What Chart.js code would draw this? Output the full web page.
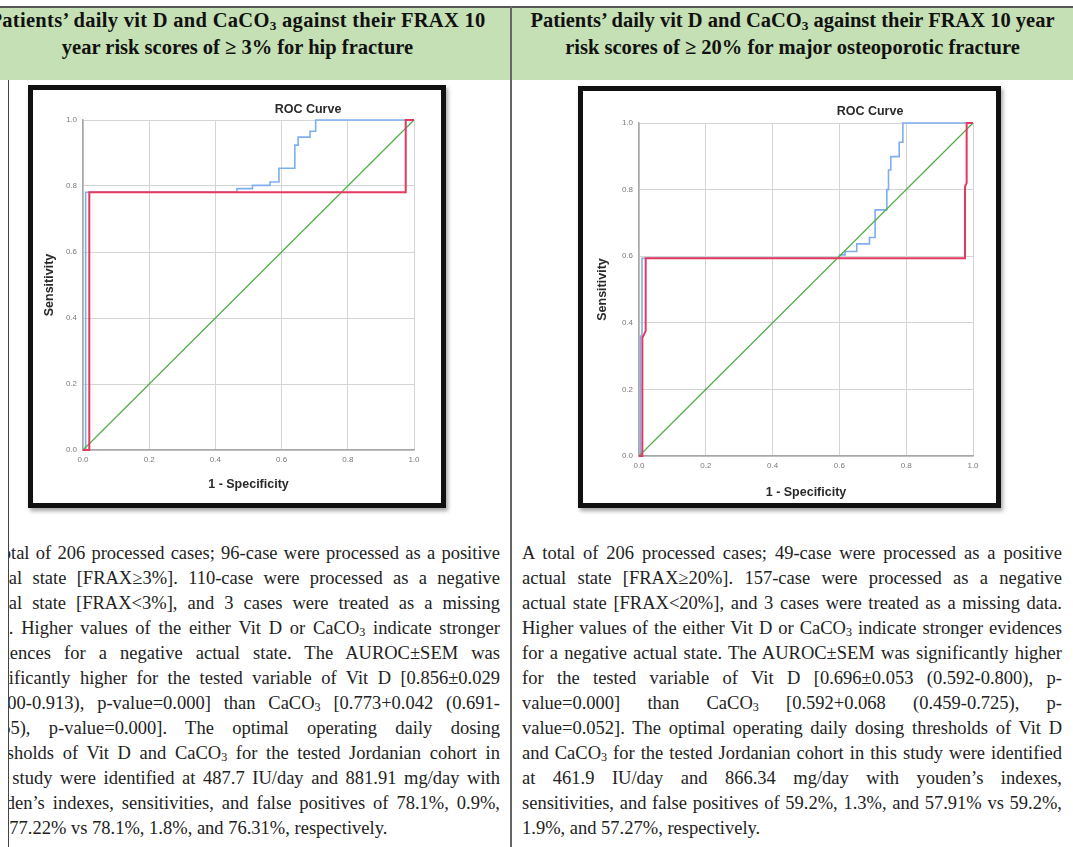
<!DOCTYPE html>
<html>
<head>
<meta charset="utf-8">
<script src="https://cdn.jsdelivr.net/npm/chart.js@4.4.1/dist/chart.umd.min.js"></script>
<style>
  html, body { margin:0; padding:0; background:#fff; }
  body { width:1073px; height:847px; position:relative; overflow:hidden; }
  .abs { position:absolute; }
  .hdr { font-family:"Liberation Serif","Times New Roman",serif; font-weight:bold; font-size:20.5px; line-height:27px; color:#111; text-align:center; white-space:nowrap; }
  .frame { position:absolute; border:5px solid #111; background:#fff; box-shadow:2px 3px 4px rgba(0,0,0,0.35); }
  .frame canvas { position:absolute; left:0; top:0; }
  .ctitle { position:absolute; font-family:"Liberation Sans",Arial,sans-serif; font-weight:bold; font-size:12.5px; color:#2a2a2a; white-space:nowrap; transform:translate(-50%,-50%); }
  .body { font-family:"Liberation Serif","Times New Roman",serif; font-size:18.5px; line-height:25px; color:#222; }
  .ln { white-space:nowrap; height:25px; }
  sub { font-size:0.65em; vertical-align:-0.2em; line-height:0; }
</style>
</head>
<body>

<!-- table structure -->
<div class="abs" style="left:0;top:8px;width:511px;height:72px;background:#c5e0b4;"></div>
<div class="abs" style="left:512px;top:8px;width:561px;height:72px;background:#c5e0b4;"></div>
<div class="abs" style="left:0;top:6px;width:1073px;height:2px;background:#555;"></div>
<div class="abs" style="left:510px;top:6px;width:2px;height:841px;background:#666;"></div>
<div class="abs" style="left:8px;top:80px;width:1px;height:767px;background:#444;"></div>

<!-- headers -->
<div class="abs hdr" style="left:-36px;top:7px;width:547px;"><span style="letter-spacing:0.3px">Patients’ daily vit D and CaCO<sub>3</sub> against their FRAX 10</span><br>year risk scores of ≥ 3% for hip fracture</div>
<div class="abs hdr" style="left:512px;top:7px;width:561px;">Patients’ daily vit D and CaCO<sub>3</sub> against their FRAX 10 year<br>risk scores of ≥ 20% for major osteoporotic fracture</div>

<!-- chart frames -->
<div class="frame" style="left:28px;top:85px;width:408px;height:413px;">
  <canvas id="c1" width="408" height="413"></canvas>
</div>
<div class="ctitle" style="left:308px;top:109px;">ROC Curve</div>

<div class="frame" style="left:578px;top:86px;width:413px;height:412px;">
  <canvas id="c2" width="413" height="412"></canvas>
</div>
<div class="ctitle" style="left:870px;top:111px;">ROC Curve</div>

<!-- body texts -->
<div class="abs" style="left:9px;top:535px;width:501px;height:312px;overflow:hidden;">
  <div class="abs body" id="t1" style="left:-31px;top:6px;width:522px;">
    <div class="ln"><span>A total of 206 processed cases; 96-case were processed as a positive</span></div>
    <div class="ln"><span>actual state [FRAX≥3%]. 110-case were processed as a negative</span></div>
    <div class="ln"><span>actual state [FRAX&lt;3%], and 3 cases were treated as a missing</span></div>
    <div class="ln"><span>data. Higher values of the either Vit D or CaCO<sub>3</sub> indicate stronger</span></div>
    <div class="ln"><span>evidences for a negative actual state. The AUROC±SEM was</span></div>
    <div class="ln"><span>significantly higher for the tested variable of Vit D [0.856±0.029</span></div>
    <div class="ln"><span>(0.800-0.913), p-value=0.000] than CaCO<sub>3</sub> [0.773+0.042 (0.691-</span></div>
    <div class="ln"><span>0.855), p-value=0.000]. The optimal operating daily dosing</span></div>
    <div class="ln"><span>thresholds of Vit D and CaCO<sub>3</sub> for the tested Jordanian cohort in</span></div>
    <div class="ln"><span>this study were identified at 487.7 IU/day and 881.91 mg/day with</span></div>
    <div class="ln"><span>youden’s indexes, sensitivities, and false positives of 78.1%, 0.9%,</span></div>
    <div class="ln last"><span>and 77.22% vs 78.1%, 1.8%, and 76.31%, respectively.</span></div>
  </div>
</div>
<div class="abs body" id="t2" style="left:522px;top:541px;width:540px;">
  <div class="ln"><span>A total of 206 processed cases; 49-case were processed as a positive</span></div>
  <div class="ln"><span>actual state [FRAX≥20%]. 157-case were processed as a negative</span></div>
  <div class="ln"><span>actual state [FRAX&lt;20%], and 3 cases were treated as a missing data.</span></div>
  <div class="ln"><span>Higher values of the either Vit D or CaCO<sub>3</sub> indicate stronger evidences</span></div>
  <div class="ln"><span>for a negative actual state. The AUROC±SEM was significantly higher</span></div>
  <div class="ln"><span>for the tested variable of Vit D [0.696±0.053 (0.592-0.800), p-</span></div>
  <div class="ln"><span>value=0.000] than CaCO<sub>3</sub> [0.592+0.068 (0.459-0.725), p-</span></div>
  <div class="ln"><span>value=0.052]. The optimal operating daily dosing thresholds of Vit D</span></div>
  <div class="ln"><span>and CaCO<sub>3</sub> for the tested Jordanian cohort in this study were identified</span></div>
  <div class="ln"><span>at 461.9 IU/day and 866.34 mg/day with youden’s indexes,</span></div>
  <div class="ln"><span>sensitivities, and false positives of 59.2%, 1.3%, and 57.91% vs 59.2%,</span></div>
  <div class="ln last"><span>1.9%, and 57.27%, respectively.</span></div>
</div>

<script>
// ---------- DATA ----------
const axisTicks = [0.0, 0.2, 0.4, 0.6, 0.8, 1.0];

// Hip fracture (FRAX >= 3%) — Vit D (blue)
const hipVitDX = [0, 0.008, 0.008, 0.465, 0.465, 0.512, 0.512, 0.565, 0.565, 0.592, 0.592, 0.640, 0.640, 0.650, 0.650, 0.686, 0.686, 0.703, 0.703, 1.0];
const hipVitDY = [0, 0, 0.781, 0.781, 0.792, 0.792, 0.802, 0.802, 0.812, 0.812, 0.854, 0.854, 0.924, 0.924, 0.948, 0.948, 0.966, 0.966, 1.0, 1.0];
// Hip fracture — CaCO3 (red)
const hipCaCO3X = [0, 0.019, 0.019, 0.975, 0.975, 1.0];
const hipCaCO3Y = [0, 0, 0.781, 0.781, 1.0, 1.0];

// Major osteoporotic fracture (FRAX >= 20%) — Vit D (blue)
const mofVitDX = [0, 0.004, 0.004, 0.009, 0.009, 0.600, 0.600, 0.617, 0.617, 0.652, 0.652, 0.690, 0.690, 0.707, 0.707, 0.742, 0.742, 0.747, 0.747, 0.754, 0.754, 0.779, 0.779, 0.790, 0.790, 1.0];
const mofVitDY = [0, 0, 0.360, 0.360, 0.594, 0.594, 0.604, 0.604, 0.614, 0.614, 0.637, 0.637, 0.656, 0.656, 0.739, 0.739, 0.800, 0.800, 0.859, 0.859, 0.899, 0.899, 0.942, 0.942, 1.0, 1.0];
// Major osteoporotic fracture — CaCO3 (red)
const mofCaCO3X = [0, 0.010, 0.010, 0.020, 0.020, 0.976, 0.976, 0.981, 0.981, 1.0];
const mofCaCO3Y = [0, 0, 0.355, 0.375, 0.594, 0.594, 0.809, 0.820, 1.0, 1.0];

// Reference line (green)
const referenceX = [0, 1];
const referenceY = [0, 1];

// ---------- helpers ----------
function pts(xs, ys) { return xs.map((x, i) => ({ x: x, y: ys[i] })); }

function makeChart(id, d, geo) {
  const lineDs = (label, data, color, width) => ({
    label, data, borderColor: color, backgroundColor: color, borderWidth: width, showLine: true,
    pointRadius: 0, pointHoverRadius: 0, fill: false, tension: 0, clip: 4
  });
  const tickFont = { family: 'Liberation Sans, Arial', size: 8 };
  const titleFont = { family: 'Liberation Sans, Arial', size: 12.5, weight: 'bold' };
  return new Chart(document.getElementById(id), {
    type: 'scatter',
    data: {
      datasets: [
        lineDs('CaCO3', pts(d.cx, d.cy), '#e5385f', 2),
        lineDs('Reference Line', pts(referenceX, referenceY), '#4fae45', 1.2),
        lineDs('Vit D', pts(d.vx, d.vy), '#7eaef0', 1.6)
      ]
    },
    options: {
      responsive: false, animation: false, devicePixelRatio: 1, events: [],
      layout: { padding: { left: 0, top: geo.padTop, right: geo.padRight, bottom: 0 } },
      plugins: { legend: { display: false }, tooltip: { enabled: false }, title: { display: false } },
      scales: {
        x: {
          type: 'linear', min: 0, max: 1,
          afterBuildTicks: s => { s.ticks = axisTicks.map(v => ({ value: v })); },
          afterFit: s => { s.height = geo.xh; },
          ticks: { callback: v => Number(v).toFixed(1), font: tickFont, color: '#7a7a7a', padding: 5, maxRotation: 0, autoSkip: false },
          grid: { color: '#d4d4d4', lineWidth: 1, drawTicks: false },
          border: { color: '#a8a8a8', width: 1.5 },
          title: { display: true, text: '1 - Specificity', color: '#2a2a2a', font: titleFont, padding: { top: 0, bottom: geo.xTitlePad } }
        },
        y: {
          type: 'linear', min: 0, max: 1,
          afterBuildTicks: s => { s.ticks = axisTicks.map(v => ({ value: v })); },
          afterFit: s => { s.width = geo.yw; },
          ticks: { callback: v => Number(v).toFixed(1), font: tickFont, color: '#7a7a7a', padding: 6, autoSkip: false },
          grid: { color: '#d4d4d4', lineWidth: 1, drawTicks: false },
          border: { color: '#a8a8a8', width: 1.5 },
          title: { display: true, text: 'Sensitivity', color: '#2a2a2a', font: titleFont, padding: { top: geo.yTitlePad, bottom: 0 } }
        }
      }
    }
  });
}

// left chart: canvas at page (33,90) size 408x413; plot x 83..414, y 120..450
makeChart('c1', { vx: hipVitDX, vy: hipVitDY, cx: hipCaCO3X, cy: hipCaCO3Y },
  { padTop: 30, padRight: 27, yw: 50, xh: 53, xTitlePad: 10.5, yTitlePad: 9 });
// right chart: canvas at page (583,91) size 413x412; plot x 639..973, y 123..456
makeChart('c2', { vx: mofVitDX, vy: mofVitDY, cx: mofCaCO3X, cy: mofCaCO3Y },
  { padTop: 32, padRight: 23, yw: 56, xh: 47, xTitlePad: 2.5, yTitlePad: 12.5 });

// ---------- justify body lines ----------
function justify(id) {
  const box = document.getElementById(id);
  const target = box.getBoundingClientRect().width;
  box.querySelectorAll('.ln').forEach(ln => {
    if (ln.classList.contains('last')) return;
    const sp = ln.firstElementChild;
    const w = sp.getBoundingClientRect().width;
    const n = (sp.textContent.match(/ /g) || []).length;
    if (n > 0) sp.style.wordSpacing = ((target - w) / n) + 'px';
  });
}
justify('t1');
justify('t2');
</script>
</body>
</html>
